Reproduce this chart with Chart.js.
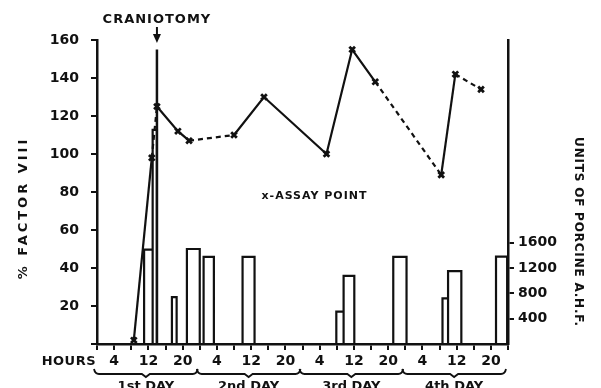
<!DOCTYPE html>
<html>
<head>
<meta charset="utf-8">
<script src="https://cdn.jsdelivr.net/npm/chart.js@4/dist/chart.umd.min.js"></script>
<style>
  html, body { margin: 0; padding: 0; background: #fff; }
  canvas { display: block; }
</style>
</head>
<body>
<canvas id="factorChart" width="601" height="388"></canvas>
<script>
// assay points: hour since start of day 1, % factor VIII
const assayHours = [8.6, 12.8, 14.0, 18.9, 21.5, 32.0, 39.0, 53.6, 59.6, 65.0, 80.4, 83.7, 89.7];
const factorVIII = [2, 98, 125, 112, 107, 110, 130, 100, 155, 138, 89, 142, 134];
// dashed[i] -> segment from point i to i+1 is dashed
const dashed = [false, true, false, false, true, false, false, false, false, true, false, true];

// porcine AHF doses: start hour, end hour, units
const doseStart = [11.0, 13.0, 17.5, 21.0, 24.9, 34.0, 55.9, 57.6, 69.2, 80.7, 82.0, 93.2];
const doseEnd = [13.0, 14.0, 18.6, 24.0, 27.3, 36.8, 57.6, 60.1, 72.3, 82.0, 85.1, 95.8];
const doseUnits = [1490, 3380, 740, 1500, 1375, 1375, 510, 1075, 1375, 720, 1150, 1380];

const craniotomyHour = 14;
const craniotomyTop = 155;
const dayLabels = ["1st DAY", "2nd DAY", "3rd DAY", "4th DAY"];
const unitTicks = [400, 800, 1200, 1600];

const ink = "#111";
const font = "DejaVu Sans";

// open-bottom rectangles for the doses, gaps between them
const doseOutline = [];
doseUnits.forEach((u, i) => {
    doseOutline.push({ x: doseStart[i], y: 0 }, { x: doseStart[i], y: u },
        { x: doseEnd[i], y: u }, { x: doseEnd[i], y: 0 }, { x: doseEnd[i], y: null });
});

const extras = {
    id: "extras",
    afterDraw(chart) {
        const c = chart.ctx;
        const xs = chart.scales.x, ys = chart.scales.y;
        c.save();
        c.fillStyle = ink;
        c.strokeStyle = ink;

        // axis titles
        c.font = "bold 13px " + font;
        c.letterSpacing = "3px";
        c.textAlign = "center";
        c.textBaseline = "middle";
        c.save();
        c.translate(24, 208);
        c.rotate(-Math.PI / 2);
        c.fillText("% FACTOR VIII", 0, 0);
        c.restore();
        c.font = "bold 12px " + font;
        c.letterSpacing = "0.8px";
        c.save();
        c.translate(578, 232);
        c.rotate(Math.PI / 2);
        c.fillText("UNITS OF PORCINE A.H.F.", 0, 0);
        c.restore();

        // HOURS
        c.letterSpacing = "0.5px";
        c.font = "bold 13px " + font;
        c.textAlign = "right";
        c.fillText("HOURS", 96, 362);

        // day braces
        c.letterSpacing = "0px";
        c.lineWidth = 1.8;
        c.textAlign = "center";
        c.textBaseline = "alphabetic";
        c.font = "bold 13px " + font;
        dayLabels.forEach((lab, d) => {
            const x0 = xs.getPixelForValue(24 * d) - 3;
            const x1 = xs.getPixelForValue(24 * d + 24) - 2;
            const mid = (x0 + x1) / 2;
            c.beginPath();
            c.moveTo(x0, 369);
            c.quadraticCurveTo(x0 + 1, 374, x0 + 5, 374);
            c.lineTo(mid - 4, 374);
            c.lineTo(mid, 377);
            c.lineTo(mid + 4, 374);
            c.lineTo(x1 - 5, 374);
            c.quadraticCurveTo(x1 - 1, 374, x1, 369);
            c.stroke();
            c.fillText(lab, mid, 390);
        });

        // craniotomy label and arrow
        const cx = xs.getPixelForValue(craniotomyHour);
        c.font = "bold 13px " + font;
        c.letterSpacing = "1px";
        c.textBaseline = "middle";
        c.fillText("CRANIOTOMY", cx, 20);
        c.lineWidth = 2;
        c.beginPath();
        c.moveTo(cx, 27);
        c.lineTo(cx, 36);
        c.stroke();
        c.beginPath();
        c.moveTo(cx - 4, 34);
        c.lineTo(cx + 4, 34);
        c.lineTo(cx, 43);
        c.closePath();
        c.fill();

        // assay point key
        c.font = "bold 11px " + font;
        c.letterSpacing = "1px";
        c.fillText("x-ASSAY POINT", xs.getPixelForValue(50.8), ys.getPixelForValue(78));
        c.restore();
    }
};

const axisGrid = { drawOnChartArea: false, color: ink, lineWidth: 2, tickLength: 6 };
const axisBorder = { color: ink, width: 2.5 };
const tickFont = { family: font, size: 14, weight: "bold" };

new Chart(document.getElementById("factorChart"), {
    type: "line",
    data: {
        datasets: [
            {
                label: "Porcine A.H.F.",
                data: doseOutline,
                yAxisID: "y2",
                borderColor: ink,
                borderWidth: 2.2,
                pointRadius: 0,
                spanGaps: false,
                tension: 0,
                order: 3
            },
            {
                label: "Craniotomy",
                data: [{ x: craniotomyHour, y: craniotomyTop }, { x: craniotomyHour, y: 0 }],
                yAxisID: "y",
                borderColor: ink,
                borderWidth: 2.5,
                pointRadius: 0,
                order: 2
            },
            {
                label: "% Factor VIII",
                data: assayHours.map((h, i) => ({ x: h, y: factorVIII[i] })),
                yAxisID: "y",
                borderColor: ink,
                borderWidth: 2.2,
                pointStyle: "crossRot",
                pointRadius: 4,
                pointBorderWidth: 2.8,
                pointBorderColor: ink,
                tension: 0,
                segment: {
                    borderDash: ctx => dashed[ctx.p0DataIndex] ? [5, 4] : undefined
                },
                order: 1
            }
        ]
    },
    options: {
        responsive: false,
        animation: false,
        layout: { padding: { top: 40 } },
        plugins: { legend: { display: false }, tooltip: { enabled: false } },
        scales: {
            x: {
                type: "linear",
                min: 0,
                max: 96,
                grid: axisGrid,
                border: axisBorder,
                afterFit: s => { s.height = 44; },
                ticks: {
                    stepSize: 4,
                    autoSkip: false,
                    maxRotation: 0,
                    padding: 3,
                    color: ink,
                    font: tickFont,
                    callback: v => v % 8 === 4 ? String(v % 24) : ""
                }
            },
            y: {
                position: "left",
                min: 0,
                max: 160,
                grid: axisGrid,
                border: axisBorder,
                afterFit: s => { s.width = 97; },
                ticks: {
                    stepSize: 10,
                    padding: 12,
                    color: ink,
                    font: tickFont,
                    callback: v => (v % 20 === 0 && v > 0) ? String(v) : ""
                }
            },
            y2: {
                position: "right",
                min: 0,
                max: 4800,
                grid: axisGrid,
                border: axisBorder,
                afterFit: s => { s.width = 93; },
                afterBuildTicks: s => { s.ticks = unitTicks.map(v => ({ value: v })); },
                ticks: {
                    padding: 4,
                    color: ink,
                    font: tickFont,
                    callback: v => String(v)
                }
            }
        }
    },
    plugins: [extras]
});
</script>
</body>
</html>
